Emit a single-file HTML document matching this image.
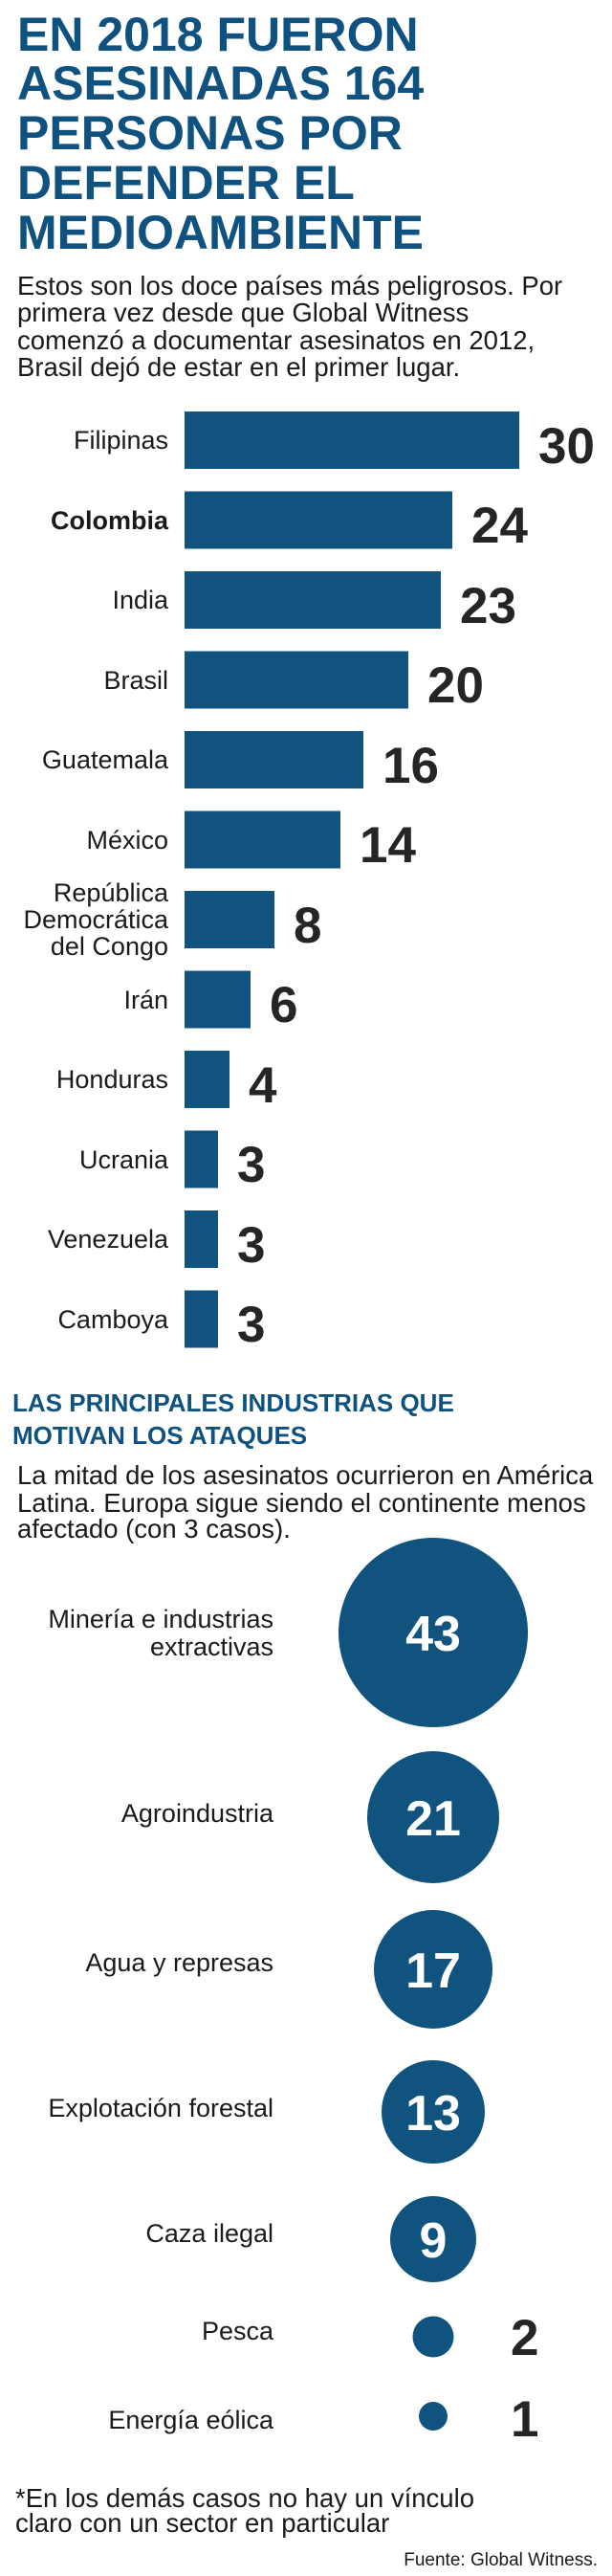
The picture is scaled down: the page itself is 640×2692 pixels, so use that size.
<!DOCTYPE html>
<html><head><meta charset="utf-8"><style>
html,body{margin:0;padding:0;background:#fff}
svg{display:block}
text{font-family:"Liberation Sans",sans-serif}
.t{font-weight:bold;fill:#0f527f;font-size:50px;letter-spacing:0px}
.p{font-size:27.5px;fill:#1a1a1a}
.c{font-size:27px;fill:#1a1a1a;text-anchor:end}
.v{font-size:53px;font-weight:bold;fill:#252525}
.w{font-size:52px;font-weight:bold;fill:#fff;text-anchor:middle}
</style></head><body>
<svg width="640" height="2692" viewBox="0 0 640 2692" xmlns="http://www.w3.org/2000/svg">
<text class="t" x="18" y="53">EN 2018 FUERON</text>
<text class="t" x="18" y="104">ASESINADAS 164</text>
<text class="t" x="18" y="156">PERSONAS POR</text>
<text class="t" x="18" y="208">DEFENDER EL</text>
<text class="t" x="18" y="260">MEDIOAMBIENTE</text>
<text class="p" x="18" y="308">Estos son los doce países más peligrosos. Por</text>
<text class="p" x="18" y="336">primera vez desde que Global Witness</text>
<text class="p" x="18" y="365">comenzó a documentar asesinatos en 2012,</text>
<text class="p" x="18" y="393">Brasil dejó de estar en el primer lugar.</text>
<g fill="#0f537e">
<rect x="193" y="430" width="350" height="60"/>
<rect x="193" y="513.5" width="280" height="60"/>
<rect x="193" y="597" width="268" height="60"/>
<rect x="193" y="680.5" width="234" height="60"/>
<rect x="193" y="764" width="187" height="60"/>
<rect x="193" y="847.5" width="163" height="60"/>
<rect x="193" y="931" width="94" height="60"/>
<rect x="193" y="1014.5" width="69" height="60"/>
<rect x="193" y="1098" width="47" height="60"/>
<rect x="193" y="1181.5" width="35" height="60"/>
<rect x="193" y="1265" width="35" height="60"/>
<rect x="193" y="1348.5" width="35" height="60"/>
</g>
<text class="c" x="176" y="469">Filipinas</text>
<text class="c" x="176" y="553" font-weight="bold">Colombia</text>
<text class="c" x="176" y="636">India</text>
<text class="c" x="176" y="720">Brasil</text>
<text class="c" x="176" y="803">Guatemala</text>
<text class="c" x="176" y="887">México</text>
<text class="c" x="176" y="942">República</text>
<text class="c" x="176" y="970">Democrática</text>
<text class="c" x="176" y="998">del Congo</text>
<text class="c" x="176" y="1054">Irán</text>
<text class="c" x="176" y="1137">Honduras</text>
<text class="c" x="176" y="1221">Ucrania</text>
<text class="c" x="176" y="1304">Venezuela</text>
<text class="c" x="176" y="1388">Camboya</text>
<text class="v" x="563" y="484">30</text>
<text class="v" x="493" y="567">24</text>
<text class="v" x="481" y="651">23</text>
<text class="v" x="447" y="734">20</text>
<text class="v" x="400" y="818">16</text>
<text class="v" x="376" y="901">14</text>
<text class="v" x="307" y="985">8</text>
<text class="v" x="282" y="1068">6</text>
<text class="v" x="260" y="1152">4</text>
<text class="v" x="248" y="1235">3</text>
<text class="v" x="248" y="1319">3</text>
<text class="v" x="248" y="1402">3</text>
<text x="13" y="1475" font-size="26" font-weight="bold" fill="#0f527f">LAS PRINCIPALES INDUSTRIAS QUE</text>
<text x="13" y="1509" font-size="26" font-weight="bold" fill="#0f527f">MOTIVAN LOS ATAQUES</text>
<text class="p" x="18" y="1551">La mitad de los asesinatos ocurrieron en América</text>
<text class="p" x="18" y="1580">Latina. Europa sigue siendo el continente menos</text>
<text class="p" x="18" y="1607">afectado (con 3 casos).</text>
<g fill="#0f537e">
<circle cx="453" cy="1706" r="99"/>
<circle cx="453" cy="1899" r="69"/>
<circle cx="453" cy="2058" r="62"/>
<circle cx="453" cy="2207" r="54"/>
<circle cx="453" cy="2340" r="45"/>
<circle cx="453" cy="2442" r="21.5"/>
<circle cx="453" cy="2525" r="15"/>
</g>
<text class="w" x="453" y="1725">43</text>
<text class="w" x="453" y="1918">21</text>
<text class="w" x="453" y="2077">17</text>
<text class="w" x="453" y="2226">13</text>
<text class="w" x="453" y="2359">9</text>
<text class="v" x="534" y="2461">2</text>
<text class="v" x="534" y="2546">1</text>
<text class="c" x="286" y="1701">Minería e industrias</text>
<text class="c" x="286" y="1730">extractivas</text>
<text class="c" x="286" y="1904">Agroindustria</text>
<text class="c" x="286" y="2060">Agua y represas</text>
<text class="c" x="286" y="2212">Explotación forestal</text>
<text class="c" x="286" y="2343">Caza ilegal</text>
<text class="c" x="286" y="2445">Pesca</text>
<text class="c" x="286" y="2538">Energía eólica</text>
<text class="p" x="16" y="2620">*En los demás casos no hay un vínculo</text>
<text class="p" x="16" y="2646">claro con un sector en particular</text>
<text x="625" y="2681" font-size="19" fill="#1a1a1a" text-anchor="end">Fuente: Global Witness.</text>
</svg>
</body></html>
